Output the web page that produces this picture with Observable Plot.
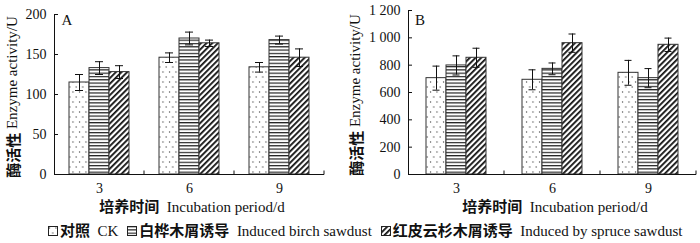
<!DOCTYPE html>
<html><head><meta charset="utf-8">
<script src="https://cdn.jsdelivr.net/npm/d3@7"></script>
<script src="https://cdn.jsdelivr.net/npm/@observablehq/plot@0.6"></script>
<style>
body{margin:0;background:#fff;width:700px;height:243px;overflow:hidden;font-family:"Liberation Serif",serif;color:#111}
#row{display:flex;height:217px}
.cn{font-family:"Noto Sans CJK SC",sans-serif;font-weight:bold}
#legend{height:26px;padding-left:48px;font-size:15px;line-height:26px;white-space:nowrap}
#legend .item{display:inline-block;margin-right:9px}
#legend svg{vertical-align:-1px;margin-right:1px}
</style></head><body>
<svg width="0" height="0" style="position:absolute"><defs>
  <pattern id="pat-dots" patternUnits="userSpaceOnUse" width="6.5" height="10">
    <rect width="6.5" height="10" fill="#fff"/>
    <circle cx="1.5" cy="2" r="0.65" fill="#444"/>
    <circle cx="4.75" cy="7" r="0.65" fill="#444"/>
  </pattern>
  <pattern id="pat-hlines" patternUnits="userSpaceOnUse" width="6" height="3.3">
    <rect width="6" height="3.3" fill="#fff"/>
    <rect y="0" width="6" height="1.2" fill="#222"/>
  </pattern>
  <pattern id="pat-diag" patternUnits="userSpaceOnUse" width="4" height="4" patternTransform="rotate(45)">
    <rect width="4" height="4" fill="#fff"/>
    <rect width="1.8" height="4" fill="#111"/>
  </pattern>
</defs></svg>
<div id="row"></div>
<div id="legend"></div>
<script>
const days = [3, 6, 9];
const seriesKeys = ["CK", "birch", "spruce"];
const seriesCN = ["对照", "白桦木屑诱导", "红皮云杉木屑诱导"];
const seriesEN = ["CK", "Induced birch sawdust", "Induced by spruce sawdust"];
const patternIds = ["pat-dots", "pat-hlines", "pat-diag"];

// values by series (rows) and day (columns)
const valuesA = [[115, 146, 134], [133, 170, 168], [128, 164, 146]];
const errorsA = [[10, 6, 6], [8, 8, 5], [8, 4, 11]];
const valuesB = [[705, 693, 744], [798, 773, 705], [854, 961, 949]];
const errorsB = [[88, 73, 91], [70, 43, 70], [70, 67, 49]];

const yTicksA = [0, 50, 100, 150, 200];
const yTickLabelsA = ["0", "50", "100", "150", "200"];
const yTicksB = [0, 200, 400, 600, 800, 1000, 1200];
const yTickLabelsB = ["0", "200", "400", "600", "800", "1 000", "1 200"];

const yTitleCN = "酶活性", yTitleEN = "Enzyme activity/U";
const xTitleCN = "培养时间", xTitleEN = "Incubation period/d";

function toRows(values, errors) {
  const rows = [];
  seriesKeys.forEach((s, i) => days.forEach((d, j) => rows.push({series: s, day: d, value: values[i][j], err: errors[i][j]})));
  return rows;
}

function panel({values, errors, yTicks, yLabels, marginLeft, marginRight, marginTop, paddingOuter, capInset, letter, yTitleX}) {
  const data = toRows(values, errors);
  const W = 350, H = 217, MB = 43;
  // baseline per facet, plus a small upward tick at the right edge of each group band
  const baselineRender = (index, scales, vals, dim, context, next) => {
    const g = next(index, scales, vals, dim, context);
    const x = dim.width - dim.marginRight, y = dim.height - dim.marginBottom;
    d3.select(g).append("path").attr("d", `M${x},${y}v-4`).attr("stroke", "#111").attr("fill", "none");
    return g;
  };
  const svg = Plot.plot({
    width: W, height: H, marginLeft, marginRight, marginTop, marginBottom: MB,
    style: {fontFamily: "Liberation Serif, serif", fontSize: "14px", color: "#111", background: "transparent", overflow: "visible"},
    fx: {domain: days, padding: 0, label: null},
    x: {domain: seriesKeys, paddingInner: 0, paddingOuter, axis: null},
    y: {domain: [yTicks[0], yTicks[yTicks.length - 1]]},
    color: {type: "ordinal", domain: seriesKeys, range: patternIds.map(id => `url(#${id})`)},
    marks: [
      Plot.barY(data, {fx: "day", x: "series", y: "value", fill: "series", stroke: "#333", strokeWidth: 1}),
      Plot.ruleX(data, {fx: "day", x: "series", y1: d => d.value - d.err, y2: d => d.value + d.err, stroke: "#111"}),
      Plot.tickY(data, {fx: "day", x: "series", y: d => d.value - d.err, insetLeft: capInset, insetRight: capInset, stroke: "#111"}),
      Plot.tickY(data, {fx: "day", x: "series", y: d => d.value + d.err, insetLeft: capInset, insetRight: capInset, stroke: "#111"}),
      Plot.ruleY(days, {fx: d => d, y: () => 0, stroke: "#111", render: baselineRender}),
      Plot.frame({anchor: "left", facetAnchor: "left", stroke: "#111"}),
      Plot.axisY({ticks: yTicks, tickFormat: d => yLabels[yTicks.indexOf(d)], tickSize: -4, tickPadding: 12, label: null, fontSize: 14}),
      Plot.axisFx({anchor: "bottom", tickSize: 0, tickPadding: 9, label: null, fontSize: 14})
    ]
  });
  const s = d3.select(svg);
  const cx = marginLeft + (W - marginLeft - marginRight) / 2;
  const yt = s.append("text").attr("transform", `translate(${yTitleX},${marginTop + (H - MB - marginTop) / 2 + 3}) rotate(-90)`)
    .attr("text-anchor", "middle").attr("dominant-baseline", "central").attr("font-size", 15).attr("fill", "#111");
  yt.append("tspan").attr("class", "cn").text(yTitleCN);
  yt.append("tspan").attr("font-family", "Liberation Serif, serif").text(" " + yTitleEN);
  const xt = s.append("text").attr("x", cx + 3).attr("y", 212).attr("text-anchor", "middle").attr("font-size", 15).attr("fill", "#111");
  xt.append("tspan").attr("class", "cn").text(xTitleCN);
  xt.append("tspan").attr("font-family", "Liberation Serif, serif").text("  " + xTitleEN);
  s.append("text").attr("x", marginLeft + 13).attr("y", 25).attr("font-size", 15).attr("font-family", "Liberation Serif, serif").attr("fill", "#111").text(letter);
  return svg;
}

const row = document.getElementById("row");
row.append(panel({values: valuesA, errors: errorsA, yTicks: yTicksA, yLabels: yTickLabelsA,
  marginLeft: 54, marginRight: 26, marginTop: 14, paddingOuter: 0.75, capInset: 6, letter: "A", yTitleX: 12}));
row.append(panel({values: valuesB, errors: errorsB, yTicks: yTicksB, yLabels: yTickLabelsB,
  marginLeft: 57, marginRight: 3, marginTop: 10, paddingOuter: 0.8, capInset: 6.5, letter: "B", yTitleX: 5}));

const legend = d3.select("#legend");
seriesKeys.forEach((k, i) => {
  const it = legend.append("span").attr("class", "item");
  const sw = it.append("svg").attr("width", 11).attr("height", 11);
  sw.append("rect").attr("x", 0.5).attr("y", 0.5).attr("width", 9).attr("height", 9).attr("fill", `url(#${patternIds[i]})`).attr("stroke", "#222");
  it.append("span").attr("class", "cn").text(seriesCN[i]);
  it.append("span").text("\u2002" + seriesEN[i]);
});
</script>
</body></html>
